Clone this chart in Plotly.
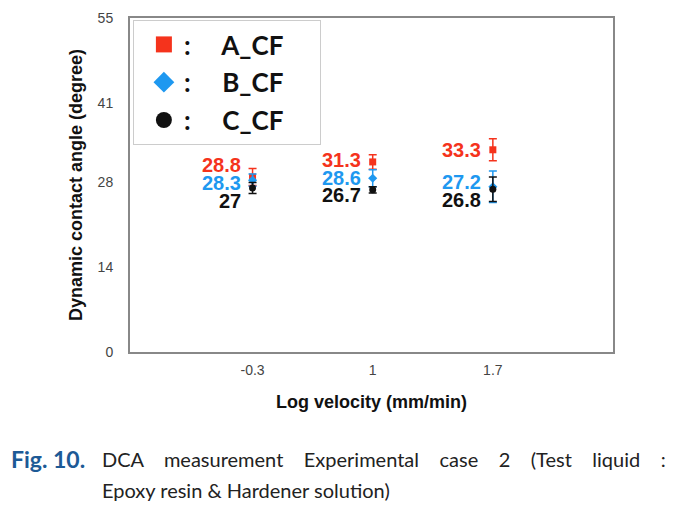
import plotly.graph_objects as go

categories = ["-0.3", "1", "1.7"]
series_names = ["A_CF", "B_CF", "C_CF"]
a_values = [28.8, 31.3, 33.3]
b_values = [28.3, 28.6, 27.2]
c_values = [27.0, 26.7, 26.8]
a_errors = [1.4, 1.2, 1.8]
b_errors = [1.0, 1.4, 2.6]
c_errors = [0.9, 0.5, 2.0]
y_ticks = [0, 14, 28, 41, 55]

values = [a_values, b_values, c_values]
errors = [a_errors, b_errors, c_errors]
colors = ["#f5331c", "#1e98f0", "#111111"]
symbols = ["square", "diamond", "circle"]
# vertical label offsets (px) per series per category
label_shifts = [[12, 2, 0], [-3, 0, 5], [-13, -5, -11]]

fig = go.Figure()
for i in range(3):
    fig.add_trace(go.Scatter(
        x=categories, y=values[i], mode="markers",
        showlegend=False,
        marker=dict(symbol=symbols[i], color=colors[i], size=7),
        error_y=dict(type="data", array=errors[i], color=colors[i],
                     thickness=1.5, width=4),
    ))
    # legend entry with a larger marker
    fig.add_trace(go.Scatter(
        x=[None], y=[None], mode="markers",
        name=":\u00a0\u00a0\u00a0\u00a0\u00a0" + series_names[i] + "\u00a0\u00a0\u00a0\u00a0\u00a0",
        legendgroup=series_names[i],
        marker=dict(symbol=symbols[i], color=colors[i], size=17),
    ))
    for j, cat in enumerate(categories):
        v = values[i][j]
        fig.add_annotation(
            x=j, y=v, xref="x", yref="y",
            text="%g" % v, showarrow=False,
            xanchor="right", yanchor="middle",
            xshift=-10, yshift=label_shifts[i][j],
            font=dict(family="Liberation Sans, Arial", size=20,
                      color=colors[i], weight="bold"),
        )

fig.update_layout(
    width=682, height=508,
    margin=dict(l=122, r=77, t=10, b=164),
    paper_bgcolor="white", plot_bgcolor="white",
    showlegend=True,
    legend=dict(
        x=0.006, y=0.994, xanchor="left", yanchor="top",
        bgcolor="white", bordercolor="#cccccc", borderwidth=1,
        font=dict(family="Lato, Noto Sans", size=26, color="#111111",
                  weight="bold"),
        indentation=10, tracegroupgap=1,
        itemsizing="trace",
    ),
    xaxis=dict(
        type="category", range=[-1.02, 3.0], automargin=False,
        showgrid=False, zeroline=False,
        showline=True, linecolor="#888888", linewidth=2, mirror=True,
        ticks="", ticklabelstandoff=4,
        tickfont=dict(family="Liberation Sans, Arial", size=14, color="#444444"),
        title=dict(text="Log velocity (mm/min)", standoff=19,
                   font=dict(family="Liberation Sans, Arial", size=18,
                             color="#111111", weight="bold")),
    ),
    yaxis=dict(
        range=[0, 55], tickvals=y_ticks, automargin=False,
        showgrid=False, zeroline=False,
        showline=True, linecolor="#888888", linewidth=2, mirror=True,
        ticks="", ticklabelstandoff=12,
        tickfont=dict(family="Liberation Sans, Arial", size=14, color="#444444"),
        title=dict(text="Dynamic contact angle (degree)", standoff=10,
                   font=dict(family="Liberation Sans, Arial", size=18,
                             color="#111111", weight="bold")),
    ),
)

cap_font = "Lato, Noto Sans"
gap = " " + "\u00a0" * 3
line1 = gap.join(["DCA", "measurement", "Experimental", "case", "2", "(Test", "liquid", ":"])
fig.add_annotation(
    x=-0.25, y=-0.32, xref="paper", yref="paper", showarrow=False,
    xanchor="left", yanchor="middle", text="Fig. 10.",
    font=dict(family=cap_font, size=23, color="#1d5a96", weight="bold"),
)
fig.add_annotation(
    x=-0.062, y=-0.32, xref="paper", yref="paper", showarrow=False,
    xanchor="left", yanchor="middle", text=line1,
    font=dict(family=cap_font, size=20, color="#222222"),
)
fig.add_annotation(
    x=-0.062, y=-0.413, xref="paper", yref="paper", showarrow=False,
    xanchor="left", yanchor="middle", text="Epoxy resin & Hardener solution)",
    font=dict(family=cap_font, size=20, color="#222222"),
)

fig.write_html("out.html")
